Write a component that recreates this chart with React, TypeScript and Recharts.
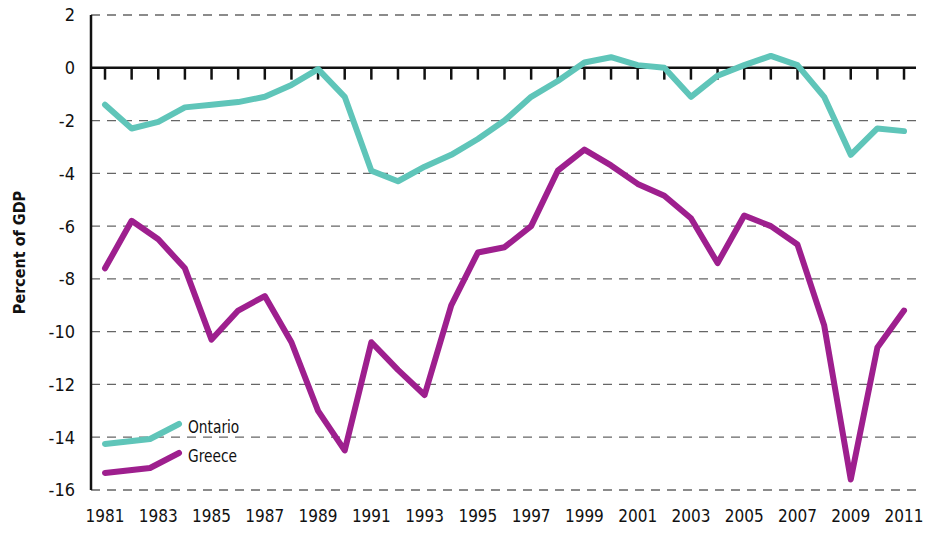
import { LineChart, Line, XAxis, YAxis, CartesianGrid, ReferenceLine } from 'recharts'

const years = [
  1981, 1982, 1983, 1984, 1985, 1986, 1987, 1988, 1989, 1990,
  1991, 1992, 1993, 1994, 1995, 1996, 1997, 1998, 1999, 2000,
  2001, 2002, 2003, 2004, 2005, 2006, 2007, 2008, 2009, 2010, 2011,
]
const ontario = [
  -1.4, -2.3, -2.05, -1.5, -1.4, -1.3, -1.1, -0.65, -0.05, -1.1,
  -3.9, -4.3, -3.75, -3.3, -2.7, -2.0, -1.1, -0.5, 0.2, 0.4,
  0.1, 0.0, -1.1, -0.3, 0.1, 0.45, 0.1, -1.1, -3.3, -2.3, -2.4,
]
const greece = [
  -7.6, -5.8, -6.5, -7.6, -10.3, -9.2, -8.65, -10.4, -13.0, -14.5,
  -10.4, -11.45, -12.4, -9.0, -7.0, -6.8, -6.0, -3.9, -3.1, -3.7,
  -4.4, -4.85, -5.7, -7.4, -5.6, -6.0, -6.7, -9.75, -15.6, -10.6, -9.2,
]
const yTicks = [2, 0, -2, -4, -6, -8, -10, -12, -14, -16]
const xTicks = [1981, 1983, 1985, 1987, 1989, 1991, 1993, 1995, 1997, 1999, 2001, 2003, 2005, 2007, 2009, 2011]

const data = years.map((year, i) => ({ year, ontario: ontario[i], greece: greece[i] }))

const FONT = '"Liberation Sans Narrow", "DejaVu Sans Condensed", sans-serif'
const TEAL = '#5fc5b9'
const PURPLE = '#9e1f8e'

function LegendBox() {
  const rows = [
    { name: 'Ontario', color: TEAL },
    { name: 'Greece', color: PURPLE },
  ]
  return (
    <div style={{ position: 'absolute', left: 102, top: 419, fontFamily: FONT, fontSize: 17, color: '#111' }}>
      {rows.map(r => (
        <div key={r.name} style={{ display: 'flex', alignItems: 'flex-start', height: 29 }}>
          <svg width={86} height={30}>
            <polyline points="3,25 48,20 77,5" fill="none" stroke={r.color} strokeWidth={6} strokeLinecap="round" strokeLinejoin="round" />
          </svg>
          <span style={{ marginTop: -2, transform: 'scaleX(0.9)', transformOrigin: 'left' }}>{r.name}</span>
        </div>
      ))}
    </div>
  )
}

export default function App() {
  return (
    <div style={{ position: 'absolute', left: 0, top: 0, width: 928, height: 533, background: '#fff' }}>
      <LineChart width={928} height={533} data={data} margin={{ top: 15, right: 12, bottom: 13, left: 31 }}>
        <CartesianGrid vertical={false} stroke="#666" strokeDasharray="9 7" strokeWidth={1.3} />
        <XAxis
          dataKey="year"
          type="number"
          domain={[1980.474, 2011.45]}
          ticks={xTicks}
          axisLine={false}
          tickLine={false}
          height={30}
          tickMargin={14}
          tick={{ fill: '#111', fontSize: 17, fontFamily: FONT }}
        />
        <YAxis
          domain={[-16, 2]}
          ticks={yTicks}
          interval={0}
          width={60}
          axisLine={{ stroke: '#111', strokeWidth: 2.5 }}
          tickLine={false}
          tickMargin={10}
          tick={{ fill: '#111', fontSize: 18, fontFamily: FONT }}
          label={{ value: 'Percent of GDP', angle: -90, position: 'insideLeft', offset: -12, style: { fontFamily: FONT, fontWeight: 'bold', fontSize: 16, fill: '#111', textAnchor: 'middle' } }}
        />
        <ReferenceLine y={0} stroke="#111" strokeWidth={2.5} />
        {years.map(y => (
          <ReferenceLine key={y} segment={[{ x: y, y: 0 }, { x: y, y: -0.45 }]} stroke="#111" strokeWidth={2.5} />
        ))}
        <Line dataKey="ontario" name="Ontario" stroke={TEAL} strokeWidth={6} dot={false} strokeLinejoin="round" strokeLinecap="round" isAnimationActive={false} />
        <Line dataKey="greece" name="Greece" stroke={PURPLE} strokeWidth={6} dot={false} strokeLinejoin="round" strokeLinecap="round" isAnimationActive={false} />
      </LineChart>
      <LegendBox />
    </div>
  )
}
